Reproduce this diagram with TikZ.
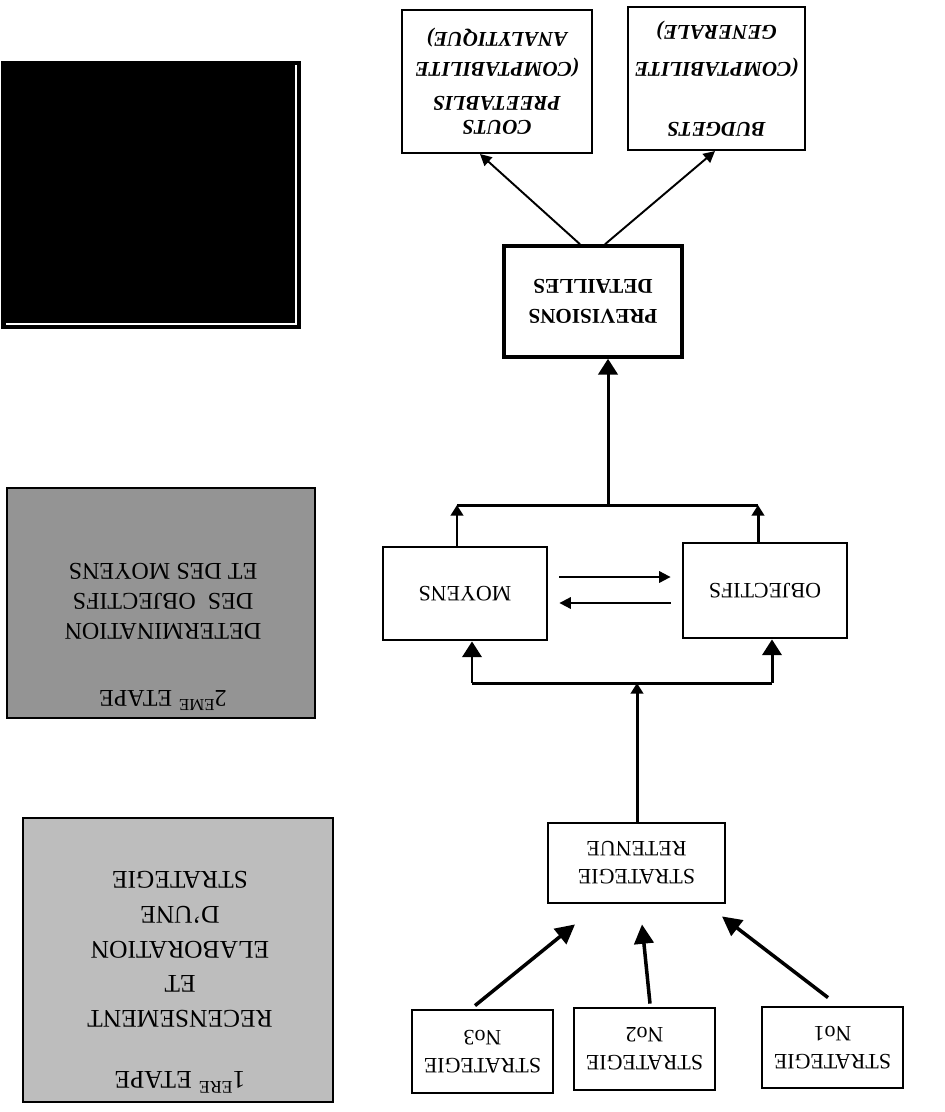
\documentclass[tikz,border=0pt]{standalone}
\usepackage{fontspec}
\setmainfont{Liberation Serif}
\usetikzlibrary{arrows.meta,calc}
\begin{document}
\begin{tikzpicture}[x=0.02cm,y=-0.02cm,
  bx/.style 2 args={draw, rectangle, rotate=180, line width=1.6pt,
    minimum width=#1*0.02cm, minimum height=#2*0.02cm, inner sep=0pt, align=center,
    font=\fontsize{12.5}{16}\selectfont},
  topbx/.style 2 args={bx={#1}{#2}, line width=1.2pt,
    font=\fontsize{12}{17}\selectfont\bfseries\itshape},
  panel/.style 2 args={draw, rectangle, line width=1pt,
    minimum width=#1*0.02cm, minimum height=#2*0.02cm, inner sep=0pt},
  ptext/.style={rotate=180, align=center, inner sep=0pt},
  ln/.style={line width=1.7pt},
  thk/.style={line width=1.7pt, -{Triangle[length=9pt,width=11pt]}},
  sml/.style={line width=1.7pt, -{Triangle[length=6pt,width=7pt]}},
  strat/.style={line width=2pt, -{Triangle[length=11pt,width=11pt]}},
  thn/.style={line width=1.1pt, -{Triangle[length=6.5pt,width=6.5pt]}}]
\useasboundingbox (0,0) rectangle (945,1112);

% left panels
\node[panel={298}{266}, fill=black] (dark) at (151,195) {};
\draw[white, line width=0.8pt] ($(dark.north east)+(-5,4)$) -- ($(dark.south east)+(-5,-5)$) -- ($(dark.south west)+(5,-5)$);

\node[panel={308}{230}, fill=black!42] (e2) at (161,603) {};
\node[ptext, font=\fontsize{13.7}{17}\selectfont] (e2t) at (163,637)
  {2\textsuperscript{EME} ETAPE\\[21pt]DETERMINATION\\DES\ \ OBJECTIFS\\ET DES MOYENS};

\node[panel={310}{284}, fill=black!26] (e1) at (178,960) {};
\node[ptext, font=\fontsize{14.5}{19.8}\selectfont] (e1t) at (180,982)
  {1\textsuperscript{ERE} ETAPE\\[15pt]RECENSEMENT\\ET\\ELABORATION\\D'UNE\\STRATEGIE};

% boxes
\node[topbx={190}{143}] (couts) at (497,81.5)
  {COUTS\\[-3pt]PREETABLIS\\[2pt](COMPTABILITE\\ANALYTIQUE)};
\node[topbx={177}{143}] (budgets) at (716.5,78.5)
  {BUDGETS\\[17pt](COMPTABILITE\\[4pt]GENERALE)};
\node[bx={178}{111}, line width=2pt, font=\fontsize{12}{17}\selectfont\bfseries] (prev) at (593,301.5)
  {PREVISIONS\\DETAILLES};
\node[bx={164}{93}] (moyens) at (465,593.5) {MOYENS};
\node[bx={164}{95}] (obj) at (765,590.5) {OBJECTIFS};
\node[bx={177}{80}] (ret) at (636.5,863) {STRATEGIE\\RETENUE};
\node[bx={141}{83}] (s3) at (482.5,1051.5) {STRATEGIE\\No3};
\node[bx={141}{82}] (s2) at (644.5,1049) {STRATEGIE\\No2};
\node[bx={141}{81}] (s1) at (832.5,1047.5) {STRATEGIE\\No1};

% connectors: top
\draw[thn] ($(prev.south)+(-13,0)$) -- ($(couts.north)+(-17,0)$);
\draw[thn] ($(prev.south)+(12,0)$) -- ($(budgets.north)+(-1.5,0)$);

% upper bar
\coordinate (jL) at (457,505);
\coordinate (jR) at (758,505);
\coordinate (jt) at (608,505);
\draw[ln] (jL) -- (jR);
\draw[sml] ($(moyens.south)+(-8,0)$) -- (jL);
\draw[sml] ($(obj.south)+(-7,0)$) -- (jR);
\draw[thk] (jt) -- (jt |- prev.north);

% horizontal arrows
\draw[thn] ($(moyens.west)+(11,-16.5)$) -- ($(obj.east)+(-11,-13.5)$);
\draw[thn] ($(obj.east)+(-11,12.5)$) -- ($(moyens.west)+(11,9.5)$);

% lower bar
\coordinate (bL) at (472,683);
\coordinate (bR) at (772,683);
\coordinate (bt) at (637,683);
\draw[ln] (bL) -- (bR);
\draw[thk] (bL) -- (bL |- moyens.north);
\draw[thk] (bR) -- (bR |- obj.north);
\draw[sml] (bt |- ret.south) -- (bt);

% strategies
\coordinate (a3) at ($(ret.north)+(-61.5,20)$);
\coordinate (a2) at ($(ret.north)+(5.5,20)$);
\coordinate (a1) at ($(ret.north)+(85.5,12)$);
\draw[strat] ($(s3.south)+(-7.5,-3)$) -- (a3);
\draw[strat] ($(s2.south)+(5.5,-3)$) -- (a2);
\draw[strat] ($(s1.south)+(-4.5,-8)$) -- (a1);
\end{tikzpicture}
\end{document}
